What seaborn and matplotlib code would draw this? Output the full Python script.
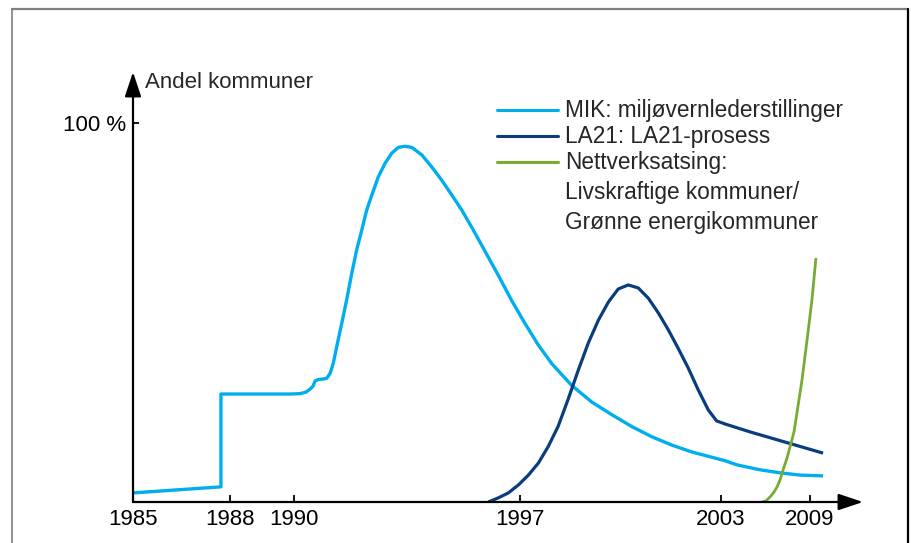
import numpy as np
import pandas as pd
import matplotlib
matplotlib.use("Agg")
import matplotlib.pyplot as plt
import seaborn as sns
from matplotlib.lines import Line2D

sns.set_theme(style="white")
plt.rcParams['font.family'] = ['Liberation Sans', 'DejaVu Sans']

# ---- data (year, percent of municipalities) ----
mik_year = [1985.0, 1987.72, 1987.72, 1989.88, 1990.19, 1990.37, 1990.50, 1990.59, 1990.65,
            1990.74, 1990.93, 1991.02, 1991.12, 1991.22, 1991.32, 1991.48, 1991.63, 1991.79,
            1991.94, 1992.10, 1992.25, 1992.41, 1992.61, 1992.82, 1993.03, 1993.23, 1993.44,
            1993.65, 1993.96, 1994.27, 1994.57, 1994.89, 1995.20, 1995.50, 1995.89, 1996.33,
            1996.74, 1997.15, 1997.55, 1997.95, 1998.54, 1999.14, 1999.75, 2000.34, 2000.94,
            2001.54, 2002.13, 2003.27, 2004.08, 2005.63, 2006.98, 2008.33, 2009.88]
mik_pct = [2.4, 4.0, 28.5, 28.5, 28.6, 29.0, 29.8, 30.6, 31.9,
           32.3, 32.5, 32.7, 34.0, 36.7, 40.9, 47.2, 53.3, 60.4,
           66.5, 71.8, 77.0, 81.0, 85.8, 89.4, 92.1, 93.6, 93.9,
           93.6, 91.6, 88.4, 85.0, 81.0, 77.0, 72.6, 66.6, 59.8,
           53.2, 47.1, 41.4, 36.5, 30.8, 26.4, 23.0, 19.9, 17.2,
           15.0, 13.2, 10.9, 9.8, 8.5, 7.7, 7.1, 6.9]

la21_year = [1996.02, 1996.33, 1996.64, 1996.95, 1997.25, 1997.55, 1997.84, 1998.14, 1998.44,
             1998.74, 1999.04, 1999.34, 1999.64, 1999.93, 2000.23, 2000.53, 2000.83, 2001.13,
             2001.43, 2001.72, 2002.02, 2002.32, 2002.62, 2002.87, 2003.27, 2004.96, 2009.88]
la21_pct = [0.0, 1.1, 2.4, 4.5, 7.1, 10.3, 14.6, 20.0, 27.2,
            34.8, 42.0, 48.0, 52.8, 56.2, 57.3, 56.5, 53.8, 49.9,
            45.4, 40.6, 35.4, 29.6, 24.3, 21.4, 20.6, 18.5, 12.9]

nett_year = [2005.76, 2006.03, 2006.30, 2006.57, 2006.78, 2006.98, 2007.18, 2007.45, 2007.65,
             2007.92, 2008.12, 2008.46, 2008.80, 2009.13, 2009.40]
nett_pct = [0.0, 0.3, 1.3, 2.6, 4.0, 5.8, 8.4, 11.6, 14.5,
            18.5, 23.5, 32.2, 42.7, 53.3, 64.4]

tick_years = [1985, 1988, 1990, 1997, 2003, 2009]
tick_labels = ["1985", "1988", "1990", "1997", "2003", "2009"]
ytick_vals = [100]
ytick_labels = ["100 %"]

series_names = ["MIK: miljøvernlederstillinger", "LA21: LA21-prosess",
                "Nettverksatsing:\nLivskraftige kommuner/\nGrønne energikommuner"]
colors = ["#00AEEF", "#0A3D7C", "#76AC34"]

df = pd.concat([
    pd.DataFrame({"year": mik_year, "pct": mik_pct, "serie": series_names[0]}),
    pd.DataFrame({"year": la21_year, "pct": la21_pct, "serie": series_names[1]}),
    pd.DataFrame({"year": nett_year, "pct": nett_pct, "serie": series_names[2]}),
], ignore_index=True)

# schematic (non-uniform) time axis
brk_year = np.array([1980.0, 1985, 1988, 1990, 1997, 2003, 2009, 2012.57, 2020])
brk_pos = np.array([-28.5, 133, 230, 294, 520, 721, 810, 863, 981.0])

def fwd(x):
    return np.interp(x, brk_year, brk_pos)

def inv(p):
    return np.interp(p, brk_pos, brk_year)

W, H = 911, 543
fig = plt.figure(figsize=(W / 100, H / 100), dpi=100)
ax = fig.add_axes([133 / W, (H - 502) / H, (863 - 133) / W, (502 - 72) / H])
ax.set_xscale("function", functions=(fwd, inv))

sns.lineplot(data=df, x="year", y="pct", hue="serie", palette=dict(zip(series_names, colors)),
             estimator=None, sort=False, legend=False, ax=ax, linewidth=2.3)
for ln, lw in zip(ax.get_lines(), [2.4, 2.3, 2.0]):
    ln.set_linewidth(lw)
    ln.set_solid_joinstyle("round")
    ln.set_solid_capstyle("butt")

ax.set_xlim(1985, 2012.57)
ax.set_ylim(0, 113.5)
for s in ax.spines.values():
    s.set_visible(False)
ax.set_xlabel("")
ax.set_ylabel("")
ax.set_xticks(tick_years)
ax.set_xticklabels(tick_labels)
ax.set_yticks(ytick_vals)
ax.set_yticklabels(ytick_labels)
ax.xaxis.set_minor_locator(matplotlib.ticker.NullLocator())
ax.tick_params(axis="x", direction="in", length=5, width=1.3, pad=5, labelsize=16,
               colors="black", bottom=True)
ax.tick_params(axis="y", direction="in", length=4, width=1.3, pad=5, labelsize=16,
               colors="black", left=True)

arrow_kw = dict(arrowstyle="-|>,head_length=0.75,head_width=0.25", lw=1.6, color="black",
                mutation_scale=20, shrinkA=0, shrinkB=0)
ax.annotate("", xy=(1, 0), xytext=(0, 0), xycoords="axes fraction",
            textcoords="axes fraction", arrowprops=arrow_kw, annotation_clip=False)
ax.annotate("", xy=(0, 1), xytext=(0, 0), xycoords="axes fraction",
            textcoords="axes fraction", arrowprops=arrow_kw, annotation_clip=False)

fig.text(145 / W, 1 - 82 / H, "Andel kommuner", fontsize=16, va="center", ha="left")

# legend (manual, first text line aligned with swatch)
leg_rows = [110, 136, 162]
for yrow, name, c in zip(leg_rows, series_names, colors):
    fig.add_artist(Line2D([497 / W, 558 / W], [1 - yrow / H, 1 - yrow / H], color=c, lw=2.2,
                          transform=fig.transFigure))
    fig.text(565 / W, 1 - (yrow - 11) / H, name, fontsize=16.3, va="top", ha="left",
             linespacing=1.38)

# outer frame
fig.add_artist(Line2D([12 / W, 908 / W], [1 - 9 / H, 1 - 9 / H], color="#7f7f7f", lw=1.6,
                      transform=fig.transFigure))
fig.add_artist(Line2D([12 / W, 12 / W], [1 - 9 / H, 0], color="#7f7f7f", lw=1.2,
                      transform=fig.transFigure))
fig.add_artist(Line2D([908 / W, 908 / W], [1 - 9 / H, 0], color="black", lw=1.6,
                      transform=fig.transFigure))

fig.savefig("out.png", dpi=100)
